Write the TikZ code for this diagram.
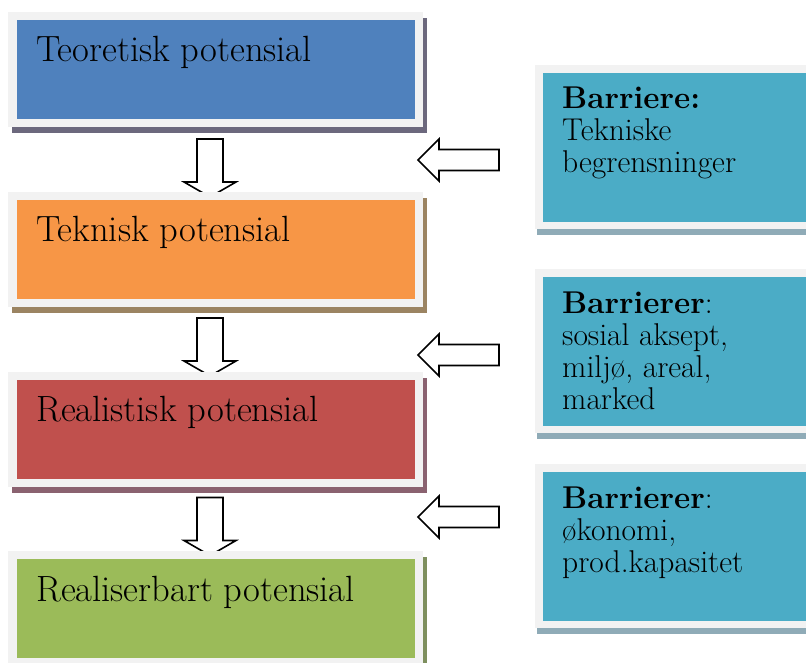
\documentclass[tikz,border=0pt]{standalone}
\usetikzlibrary{calc}
\definecolor{frameC}{HTML}{F2F2F2}
\definecolor{blueC}{HTML}{4F81BD}
\definecolor{orangeC}{HTML}{F79646}
\definecolor{redC}{HTML}{C0504D}
\definecolor{greenC}{HTML}{9BBB59}
\definecolor{cyanC}{HTML}{4BACC6}
\definecolor{shBlue}{HTML}{6C687D}
\definecolor{shOrange}{HTML}{9B8462}
\definecolor{shRed}{HTML}{8A6270}
\definecolor{shGreen}{HTML}{7E8F5E}
\definecolor{shCyan}{HTML}{8FABB7}
\pgfdeclarelayer{bg}
\pgfdeclarelayer{arr}
\pgfsetlayers{bg,arr,main}
\tikzset{
  lframe/.style={minimum width=415pt, minimum height=115pt, inner sep=0pt, outer sep=0pt, fill=frameC, draw=none},
  rframe/.style={minimum width=280pt, minimum height=164pt, inner sep=0pt, outer sep=0pt, fill=frameC, draw=none},
  ltext/.style={anchor=base west, inner sep=0pt, font=\fontsize{36.5}{42}\selectfont},
  rtext/.style={anchor=base west, inner sep=0pt, font=\fontsize{31.5}{32}\selectfont},
  barrow/.style={fill=white, draw=black, line width=1.6pt, line join=miter},
}
\begin{document}
\begin{tikzpicture}[x=1pt,y=-1pt]
\useasboundingbox (0,0) rectangle (806,663);
\clip (0,0) rectangle (806,663);
\begin{pgfonlayer}{bg}
\fill[white] (0,0) rectangle (806,663);
\end{pgfonlayer}

% left boxes
\node[lframe] (b1) at (215.5,69.5) {};
\fill[blueC] ($(b1.north west)+(9,8)$) rectangle ($(b1.south east)+(-8,-8)$);
\node[lframe] (b2) at (215.5,249.5) {};
\fill[orangeC] ($(b2.north west)+(9,8)$) rectangle ($(b2.south east)+(-8,-8)$);
\node[lframe] (b3) at (215.5,429) {};
\fill[redC] ($(b3.north west)+(9,8)$) rectangle ($(b3.south east)+(-8,-8)$);
\node[lframe] (b4) at (215.5,608.5) {};
\fill[greenC] ($(b4.north west)+(9,8)$) rectangle ($(b4.south east)+(-8,-8)$);

\begin{pgfonlayer}{bg}
\fill[shBlue] ($(b1.north west)+(4,6)$) rectangle ($(b1.south east)+(4,6)$);
\fill[shOrange] ($(b2.north west)+(4,6)$) rectangle ($(b2.south east)+(4,6)$);
\fill[shRed] ($(b3.north west)+(4,6)$) rectangle ($(b3.south east)+(4,6)$);
\fill[shGreen] ($(b4.north west)+(4,6)$) rectangle ($(b4.south east)+(4,6)$);
\end{pgfonlayer}

\node[ltext] (t1) at ($(b1.north west)+(28,50)$) {Teoretisk potensial};
\node[ltext] (t2) at ($(b2.north west)+(28,50)$) {Teknisk potensial};
\node[ltext] (t3) at ($(b3.north west)+(28,50)$) {Realistisk potensial};
\node[ltext] (t4) at ($(b4.north west)+(28,50)$) {Realiserbart potensial};

% right boxes
\node[rframe] (r1) at (675,147) {};
\fill[cyanC] ($(r1.north west)+(8,8)$) rectangle ($(r1.south east)+(0,-7)$);
\node[rframe] (r2) at (675,351) {};
\fill[cyanC] ($(r2.north west)+(8,8)$) rectangle ($(r2.south east)+(0,-7)$);
\node[rframe] (r3) at (675,546) {};
\fill[cyanC] ($(r3.north west)+(8,8)$) rectangle ($(r3.south east)+(0,-7)$);

\begin{pgfonlayer}{bg}
\fill[shCyan] ($(r1.north west)+(2,6)$) rectangle ($(r1.south east)+(2,6)$);
\fill[shCyan] ($(r2.north west)+(2,6)$) rectangle ($(r2.south east)+(2,6)$);
\fill[shCyan] ($(r3.north west)+(2,6)$) rectangle ($(r3.south east)+(2,6)$);
\end{pgfonlayer}

\node[rtext] (rt1) at ($(r1.north west)+(27,44)$) {\begin{tabular}[t]{@{}l@{}}\textbf{Barriere:}\\Tekniske\\begrensninger\end{tabular}};
\node[rtext] (rt2) at ($(r2.north west)+(27,44)$) {\begin{tabular}[t]{@{}l@{}}\textbf{Barrierer}:\\sosial aksept,\\miljø, areal,\\marked\end{tabular}};
\node[rtext] (rt3) at ($(r3.north west)+(27,44)$) {\begin{tabular}[t]{@{}l@{}}\textbf{Barrierer}:\\økonomi,\\prod.kapasitet\end{tabular}};

% arrows
\begin{pgfonlayer}{arr}
\draw[barrow] ($(b1.south)+(-18.5,12)$) -- ++(26,0) -- ++(0,43) -- ++(13,0) -- ++(-26,15) -- ++(-26,-15) -- ++(13,0) -- cycle;
\draw[barrow] ($(b2.south)+(-18.5,11)$) -- ++(26,0) -- ++(0,43) -- ++(13,0) -- ++(-26,15) -- ++(-26,-15) -- ++(13,0) -- cycle;
\draw[barrow] ($(b3.south)+(-18.5,11)$) -- ++(26,0) -- ++(0,43) -- ++(13,0) -- ++(-26,15) -- ++(-26,-15) -- ++(13,0) -- cycle;

\draw[barrow] ($(r1.west)+(-117,13)$) -- ++(21,-21) -- ++(0,10.5) -- ++(60,0) -- ++(0,21) -- ++(-60,0) -- ++(0,10.5) -- cycle;
\draw[barrow] ($(r2.west)+(-117,4)$) -- ++(21,-21) -- ++(0,10.5) -- ++(60,0) -- ++(0,21) -- ++(-60,0) -- ++(0,10.5) -- cycle;
\draw[barrow] ($(r3.west)+(-117,-29)$) -- ++(21,-21) -- ++(0,10.5) -- ++(60,0) -- ++(0,21) -- ++(-60,0) -- ++(0,10.5) -- cycle;
\end{pgfonlayer}
\end{tikzpicture}
\end{document}
